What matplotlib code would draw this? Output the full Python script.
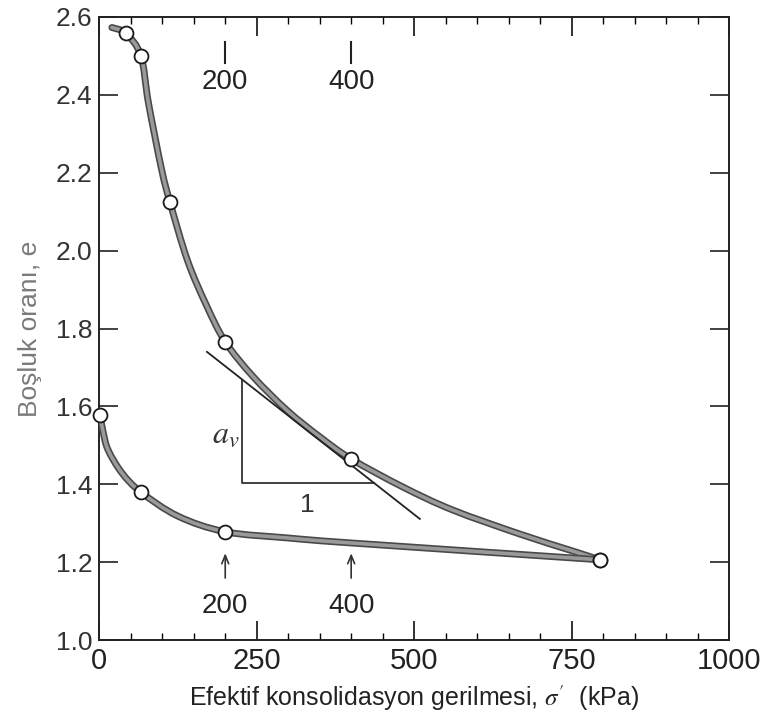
import matplotlib
matplotlib.use("Agg")
import numpy as np
import matplotlib.pyplot as plt
import matplotlib.patheffects as pe
from matplotlib.path import Path
from matplotlib.patches import PathPatch
from matplotlib.ticker import MultipleLocator, FormatStrFormatter

plt.rcParams['font.family'] = ['Liberation Sans', 'DejaVu Sans']
plt.rcParams['mathtext.fontset'] = 'stix'

# loading branch: test readings (markers) and the traced curve through them
load_stress = [42, 66, 112, 200, 400, 795]
load_void = [2.558, 2.501, 2.126, 1.766, 1.465, 1.206]
load_curve_x = [20, 42, 66, 78, 99, 112, 140, 170, 200,
                244, 298, 350, 400, 482, 561, 668, 747, 795]
load_curve_y = [2.573, 2.558, 2.501, 2.380, 2.208, 2.126, 1.975, 1.860, 1.766,
                1.677, 1.590, 1.522, 1.465, 1.393, 1.334, 1.272, 1.231, 1.206]

# unloading branch
unload_stress = [795, 200, 66, 1]
unload_void = [1.206, 1.278, 1.380, 1.578]
unload_curve_x = [795, 402, 300, 200, 125, 66, 36, 14, 6, 1]
unload_curve_y = [1.206, 1.249, 1.262, 1.278, 1.318, 1.380, 1.429, 1.488, 1.535, 1.578]

# tangent line and slope triangle for a_v
tangent_x = [171, 509]
tangent_y = [1.740, 1.311]
triangle_x = [227, 227, 436]
triangle_y = [1.669, 1.404, 1.404]

# stress markers shown above / below the curves
mark_stress = [200, 400]
mark_labels = ['200', '400']


def smooth_path(xs, ys):
    """Catmull-Rom through the traced points, drawn as cubic Bezier segments."""
    p = np.column_stack([xs, ys]).astype(float)
    verts = [p[0]]
    codes = [Path.MOVETO]
    n = len(p)
    for i in range(n - 1):
        p0 = p[i - 1] if i > 0 else p[i]
        p3 = p[i + 2] if i + 2 < n else p[i + 1]
        c1 = p[i] + (p[i + 1] - p0) / 6.0
        c2 = p[i + 1] - (p3 - p[i]) / 6.0
        verts += [c1, c2, p[i + 1]]
        codes += [Path.CURVE4] * 3
    return Path(verts, codes)


fig = plt.figure(figsize=(7.62, 7.2), dpi=100)
ax = fig.add_axes([0.1303, 0.1111, 0.8264, 0.8653])

curve_fx = [pe.Stroke(linewidth=5.0, foreground='#4a4a4a'), pe.Normal()]
for xs, ys in [(load_curve_x, load_curve_y), (unload_curve_x, unload_curve_y)]:
    patch = PathPatch(smooth_path(xs, ys), facecolor='none', edgecolor='#9a9a9a',
                      lw=2.6, capstyle='round', path_effects=curve_fx, zorder=3)
    ax.add_patch(patch)

ax.plot(load_stress, load_void, 'o', ms=10, mfc='white', mec='#1a1a1a',
        mew=1.3, zorder=5)
ax.plot(unload_stress, unload_void, 'o', ms=10, mfc='white', mec='#1a1a1a',
        mew=1.3, zorder=5, clip_on=False)

ax.plot(tangent_x, tangent_y, color='#222222', lw=1.3, zorder=4)
ax.plot(triangle_x, triangle_y, color='#333333', lw=1.3, zorder=2)
ax.text(222, 1.527, r'$a_v$', fontsize=23, ha='right', va='center',
        color='#333333')
ax.text(331, 1.347, '1', fontsize=19, ha='center', va='center', color='#333333')

for s, lab in zip(mark_stress, mark_labels):
    ax.plot([s, s], [2.483, 2.537], color='#222222', lw=1.5)
    ax.text(s, 2.432, lab, fontsize=20, ha='center', va='center', color='#222222')
    ax.annotate('', xy=(s, 1.230), xytext=(s, 1.152),
                arrowprops=dict(arrowstyle='->,head_length=0.6,head_width=0.25',
                                color='#333333', lw=1.2))
    ax.text(s, 1.087, lab, fontsize=20, ha='center', va='center', color='#222222')

ax.set_xlim(0, 1000)
ax.set_ylim(1.0, 2.6)
ax.xaxis.set_major_locator(MultipleLocator(250))
ax.xaxis.set_minor_locator(MultipleLocator(50))
ax.yaxis.set_major_locator(MultipleLocator(0.2))
ax.yaxis.set_major_formatter(FormatStrFormatter('%.1f'))

ax.tick_params(axis='x', which='major', direction='in', length=14, width=1.3,
               top=True, bottom=True, labelsize=21, pad=5, colors='#222222')
ax.tick_params(axis='x', which='minor', direction='in', length=5, width=1.0,
               top=True, bottom=True)
ax.tick_params(axis='y', which='major', direction='in', length=14, width=1.3,
               left=True, right=True, labelsize=19, pad=5, colors='#333333')
for sp in ax.spines.values():
    sp.set_linewidth(1.4)
    sp.set_color('#222222')

ax.set_xlabel("Efektif konsolidasyon gerilmesi, $\\sigma'$  (kPa)", fontsize=18,
              color='#222222', labelpad=6)
ax.set_ylabel('Boşluk oranı, e', fontsize=19, color='#7a7a7a', labelpad=10)

fig.savefig('out.png', dpi=100)
